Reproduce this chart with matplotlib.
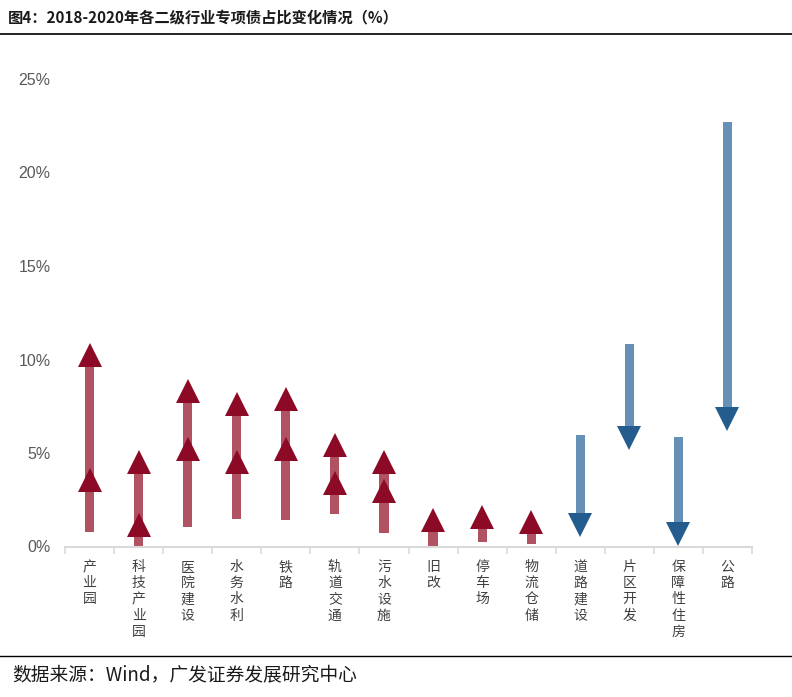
import numpy as np
import matplotlib
matplotlib.use("Agg")
import matplotlib.pyplot as plt
from matplotlib.lines import Line2D

plt.rcParams['font.family'] = ['Noto Sans CJK SC', 'DejaVu Sans']

categories = ['产业园', '科技产业园', '医院建设', '水务水利', '铁路', '轨道交通', '污水设施',
              '旧改', '停车场', '物流仓储', '道路建设', '片区开发', '保障性住房', '公路']
start_2018 = [0.80, 0.05, 1.06, 1.48, 1.42, 1.75, 0.74, 0.00, 0.24, 0.13, 5.94, 10.83, 5.83, 22.72]
mid_2019 = [3.53, 1.16, 5.19, 4.54, 5.19, 3.40, 2.95, None, None, None, None, None, None, None]
end_2020 = [10.24, 4.54, 8.34, 7.61, 7.89, 5.42, 4.54, 1.40, 1.59, 1.32, 1.17, 5.79, 0.68, 6.81]
yticks = [0, 5, 10, 15, 20, 25]

up_bar = '#B05262'
up_tri = '#8C0A26'
dn_bar = '#6690B5'
dn_tri = '#245C8E'

fig = plt.figure(figsize=(7.92, 6.97), dpi=100)
ax = fig.add_axes([65/792, 1-546.5/697, (752-65)/792, (546.5-79)/697])

x = np.arange(len(categories))
for i in range(len(categories)):
    s, e, m = start_2018[i], end_2020[i], mid_2019[i]
    up = e >= s
    bc = up_bar if up else dn_bar
    tc = up_tri if up else dn_tri
    lo, hi = min(s, e), max(s, e)
    ax.bar(x[i], hi - lo, bottom=lo, width=0.185, color=bc, zorder=2)
    mk = '^' if up else 'v'
    if m is not None:
        ax.plot([x[i]], [m], marker=mk, ms=17.5, color=tc, mew=0, zorder=3, clip_on=False)
    ax.plot([x[i]], [e], marker=mk, ms=17.5, color=tc, mew=0, zorder=3, clip_on=False)

ax.set_xlim(-0.5, len(categories) - 0.5)
ax.set_ylim(0, 25)
ax.set_yticks(yticks)
ax.set_yticklabels([f'{v}%' for v in yticks], fontsize=11.5, color='#595959',
                   family=['Liberation Sans', 'DejaVu Sans'])
ax.tick_params(axis='y', length=0, pad=10.5)
ax.set_xticks(np.arange(-0.5, len(categories), 1.0))
ax.set_xticklabels([])
ax.tick_params(axis='x', length=5, color='#D9D9D9', width=1.2)
for sp in ['left', 'right', 'top']:
    ax.spines[sp].set_visible(False)
ax.spines['bottom'].set_color('#D9D9D9')
ax.spines['bottom'].set_linewidth(1.5)

for i, c in enumerate(categories):
    ax.text(x[i], -13.5/18.7, '\n'.join(c), ha='center', va='top', fontsize=10,
            color='#404040', linespacing=1.2)

fig.text(8/792, 1-17/697, '图4：2018-2020年各二级行业专项债占比变化情况（%）',
         fontsize=11, fontweight='bold', color='#1a1a1a', va='center', ha='left')
fig.add_artist(Line2D([0, 1], [1-34/697, 1-34/697], color='black', lw=1.2))
fig.add_artist(Line2D([0, 1], [1-656/697, 1-656/697], color='black', lw=1.0))
fig.text(12/792, 1-675/697, '数据来源：Wind，广发证券发展研究中心', fontsize=13.5,
         color='#1a1a1a', va='center', ha='left')

fig.savefig('out.png', dpi=100)
